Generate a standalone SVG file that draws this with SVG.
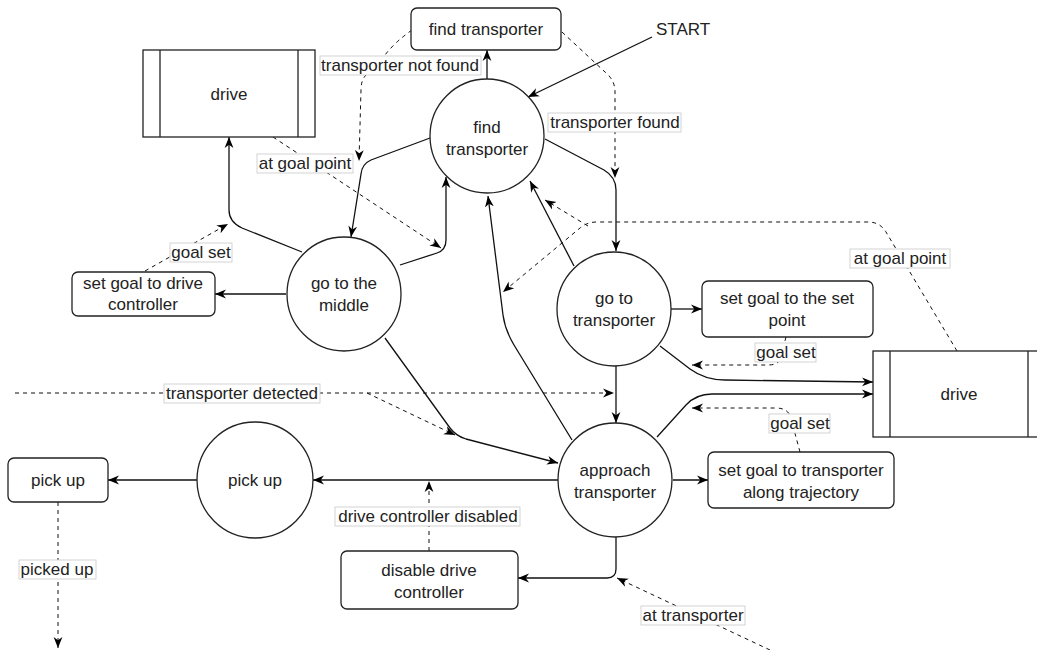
<svg xmlns="http://www.w3.org/2000/svg" width="1037" height="650" viewBox="0 0 1037 650">
  <defs>
    <marker id="arr" viewBox="0 0 10 10" refX="10" refY="5" markerWidth="11" markerHeight="11" markerUnits="userSpaceOnUse" orient="auto">
      <path d="M0,1 L10,5 L0,9 L3,5 Z" fill="#000"/>
    </marker>
    <style>
      .e { fill: none; stroke: #111; stroke-width: 1.3; marker-end: url(#arr); }
      .d { fill: none; stroke: #111; stroke-width: 1; stroke-dasharray: 4 4; }
      .da { marker-end: url(#arr); }
      .n { fill: #fff; stroke: #222; stroke-width: 1.3; }
      .t { font-family: "Liberation Sans", Arial, sans-serif; font-size: 17px; fill: #222; text-anchor: middle; }
      .lb { fill: #fff; stroke: #c8c8c8; stroke-width: 0.8; }
    </style>
  </defs>
  <rect width="1037" height="650" fill="#fff"/>

  <!-- transitions -->
  <g id="connectors">
    <path class="e" d="M652,37 L528,97"/>
    <path class="e" d="M487,79 L487,50"/>
    <path class="e" d="M430,138 L371,160 Q362,164 361,174 L351,237"/>
    <path class="e" d="M545,139 L604,170 Q616,177 616,190 L616,251"/>
    <path class="e" d="M302,252 L242,228 Q229,222 229,210 L229,137"/>
    <path class="e" d="M286,294 L215,294"/>
    <path class="e" d="M400,265 L437,253 Q446,250 446,240 L446,177"/>
    <path class="e" d="M385,338 L450,428 Q456,436 466,439 L558,463"/>
    <path class="e" d="M671,309 L702,309"/>
    <path class="e" d="M616,366 L616,423"/>
    <path class="e" d="M660,346 L690,369 Q705,380 725,380 L873,382"/>
    <path class="e" d="M657,437 L686,405 Q696,394 712,394 L873,394"/>
    <path class="e" d="M574,266 L530,181"/>
    <path class="e" d="M572,440 L514,345 Q505,330 503,315 L488,196"/>
    <path class="e" d="M558,480 L313,480"/>
    <path class="e" d="M197,480 L108,480"/>
    <path class="e" d="M673,480 L708,480"/>
    <path class="e" d="M616,537 L616,569 Q616,578 607,578 L518,578"/>

    <path class="d da" d="M412,30 Q395,42 385,55 L366,75 Q361,80 361,90 L359,161"/>
    <path class="d da" d="M562,32 L605,72 Q615,80 615,92 L615,178"/>
    <path class="d da" d="M273,137 L441,248"/>
    <path class="d da" d="M145,271 L228,224"/>
    <path class="d da" d="M957,351 L886,232 Q880,222 868,222 L597,222 Q587,222 580,228 L503,292"/>
    <path class="d da" d="M588,226 L545,200"/>
    <path class="d da" d="M786,337 L780,360 Q777,365 768,365 L692,365"/>
    <path class="d da" d="M800,452 L790,415 Q786,408 776,408 L692,408"/>
    <path class="d da" d="M15,393 L614,393"/>
    <path class="d da" d="M367,393 L455,435"/>
    <path class="d da" d="M429,551 L429,481"/>
    <path class="d da" d="M58,502 L58,648"/>
    <path class="d da" d="M770,650 L617,578"/>
  </g>

  <!-- states and actions -->
  <g id="box-find-transporter">
    <rect class="n" x="411" y="8" width="150" height="42" rx="6"/>
    <text class="t" x="486" y="35">find transporter</text>
  </g>
  <g id="start">
    <text class="t" x="683" y="35">START</text>
  </g>
  <g id="state-find-transporter">
    <circle class="n" cx="487" cy="136" r="57"/>
    <text class="t" x="487" y="133">find</text>
    <text class="t" x="487" y="155">transporter</text>
  </g>
  <g id="drive-left">
    <rect class="n" x="143" y="50" width="172" height="87"/>
    <line x1="160" y1="50" x2="160" y2="137" stroke="#222" stroke-width="1.3"/>
    <line x1="298" y1="50" x2="298" y2="137" stroke="#222" stroke-width="1.3"/>
    <text class="t" x="229" y="100">drive</text>
  </g>
  <g id="state-go-middle">
    <circle class="n" cx="344" cy="294" r="57"/>
    <text class="t" x="344" y="289">go to the</text>
    <text class="t" x="344" y="311">middle</text>
  </g>
  <g id="box-set-goal-drive">
    <rect class="n" x="72" y="272" width="143" height="44" rx="6"/>
    <text class="t" x="143" y="289">set goal to drive</text>
    <text class="t" x="143" y="310">controller</text>
  </g>
  <g id="state-go-transporter">
    <circle class="n" cx="614" cy="309" r="57"/>
    <text class="t" x="614" y="304">go to</text>
    <text class="t" x="614" y="326">transporter</text>
  </g>
  <g id="box-set-goal-point">
    <rect class="n" x="702" y="281" width="171" height="56" rx="6"/>
    <text class="t" x="787" y="304">set goal to the set</text>
    <text class="t" x="787" y="326">point</text>
  </g>
  <g id="drive-right">
    <rect class="n" x="873" y="351" width="172" height="86"/>
    <line x1="890" y1="351" x2="890" y2="437" stroke="#222" stroke-width="1.3"/>
    <line x1="1028" y1="351" x2="1028" y2="437" stroke="#222" stroke-width="1.3"/>
    <text class="t" x="959" y="400">drive</text>
  </g>
  <g id="state-approach">
    <circle class="n" cx="615" cy="480" r="57"/>
    <text class="t" x="615" y="476">approach</text>
    <text class="t" x="615" y="498">transporter</text>
  </g>
  <g id="box-set-goal-trajectory">
    <rect class="n" x="708" y="452" width="186" height="56" rx="6"/>
    <text class="t" x="801" y="476">set goal to transporter</text>
    <text class="t" x="801" y="498">along trajectory</text>
  </g>
  <g id="state-pick-up">
    <circle class="n" cx="255" cy="480" r="58"/>
    <text class="t" x="255" y="486">pick up</text>
  </g>
  <g id="box-pick-up">
    <rect class="n" x="8" y="458" width="100" height="44" rx="6"/>
    <text class="t" x="58" y="486">pick up</text>
  </g>
  <g id="box-disable-drive">
    <rect class="n" x="341" y="551" width="177" height="58" rx="6"/>
    <text class="t" x="429" y="576">disable drive</text>
    <text class="t" x="429" y="598">controller</text>
  </g>

  <!-- transition labels -->
  <g id="edge-labels">
    <rect class="lb" x="320" y="56" width="161" height="19"/>
    <text class="t" x="400" y="71">transporter not found</text>
    <rect class="lb" x="548" y="113" width="133" height="19"/>
    <text class="t" x="615" y="128">transporter found</text>
    <rect class="lb" x="257" y="154" width="96" height="19"/>
    <text class="t" x="305" y="169">at goal point</text>
    <rect class="lb" x="170" y="243" width="62" height="19"/>
    <text class="t" x="201" y="258">goal set</text>
    <rect class="lb" x="850" y="249" width="100" height="19"/>
    <text class="t" x="900" y="264">at goal point</text>
    <rect class="lb" x="755" y="343" width="61" height="19"/>
    <text class="t" x="786" y="358">goal set</text>
    <rect class="lb" x="164" y="384" width="156" height="19"/>
    <text class="t" x="242" y="399">transporter detected</text>
    <rect class="lb" x="769" y="414" width="61" height="19"/>
    <text class="t" x="800" y="429">goal set</text>
    <rect class="lb" x="335" y="507" width="185" height="19"/>
    <text class="t" x="428" y="522">drive controller disabled</text>
    <rect class="lb" x="19" y="560" width="77" height="19"/>
    <text class="t" x="57" y="575">picked up</text>
    <rect class="lb" x="641" y="606" width="104" height="19"/>
    <text class="t" x="693" y="621">at transporter</text>
  </g>
</svg>
